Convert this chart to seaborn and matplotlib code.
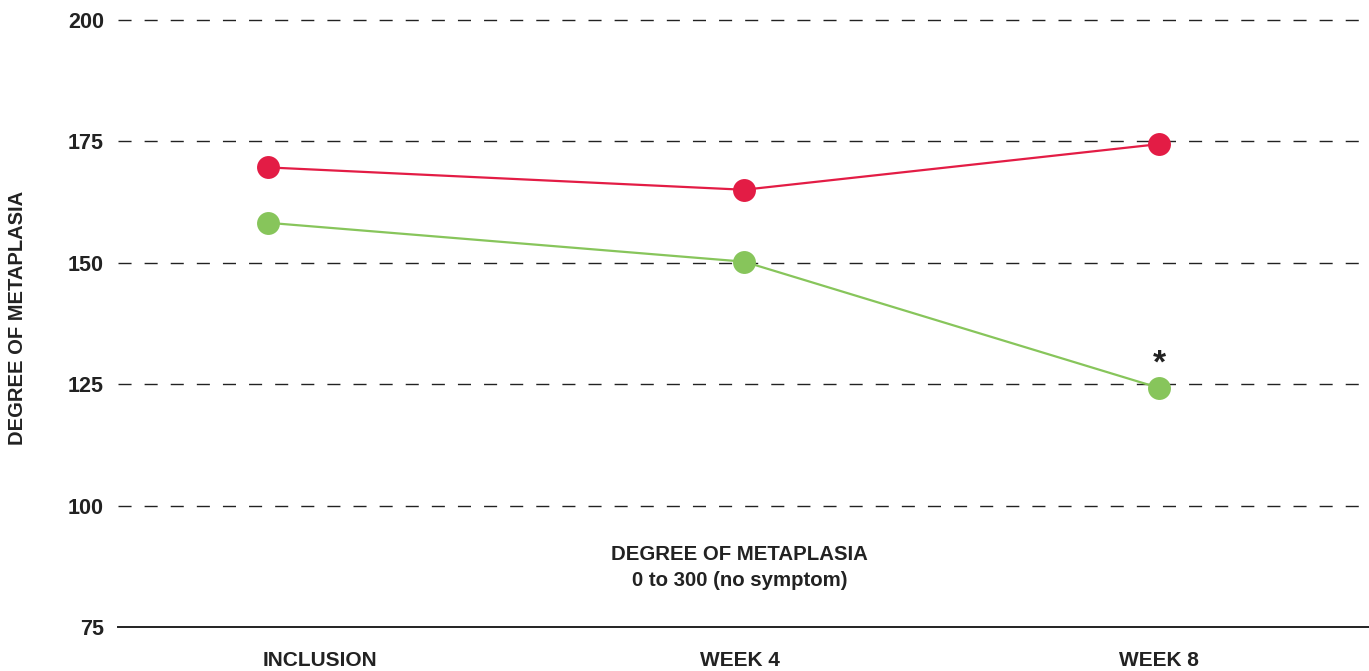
import matplotlib
matplotlib.use("Agg")
import matplotlib.pyplot as plt
import seaborn as sns
import pandas as pd

# values
timepoints = ["INCLUSION", "WEEK 4", "WEEK 8"]
tick_weeks = [0, 4, 8]
point_weeks = [-0.5, 4.04, 8]       # inclusion dot sits a little left of its label
red_series = [169.6, 165.0, 174.4]
green_series = [158.2, 150.2, 124.2]
y_ticks = [75, 100, 125, 150, 175, 200]

RED = "#E31C45"
GREEN = "#87C55B"

sns.set_theme(style="white")
plt.rcParams["font.family"] = ["Liberation Sans", "DejaVu Sans"]
plt.rcParams["font.weight"] = "bold"

df = pd.DataFrame({
    "week": point_weeks * 2,
    "value": red_series + green_series,
    "group": ["red"] * 3 + ["green"] * 3,
})

fig = plt.figure(figsize=(13.69, 6.71), dpi=100)
ax = fig.add_axes([118 / 1369, 1 - 627 / 671, 1 - 118 / 1369, (627 - 10) / 671])

# dashed reference lines
for v in y_ticks[1:]:
    ax.axhline(v, color="#222222", lw=1.0, ls=(0, (9.4, 9.4)), zorder=1)

sns.lineplot(data=df, x="week", y="value", hue="group",
             palette={"red": RED, "green": GREEN}, marker="o",
             markersize=16.5, markeredgewidth=0, linewidth=1.6,
             legend=False, ax=ax, zorder=3)

# significance star above the last green point
ax.annotate("*", xy=(point_weeks[2], green_series[2]), xytext=(0, 6),
            textcoords="offset points", ha="center", va="bottom",
            fontsize=24, fontweight="bold", color="#222222")

ax.text(4, 87.3, "DEGREE OF METAPLASIA\n0 to 300 (no symptom)",
        ha="center", va="center", fontsize=14.7, fontweight="bold",
        color="#222222", linespacing=1.45)

ax.set_xlim(-1.93, 10.0)
ax.set_ylim(75, 202)
ax.set_yticks(y_ticks)
ax.set_yticklabels([str(t) for t in y_ticks])
ax.set_xticks(tick_weeks)
ax.set_xticklabels(timepoints)
ax.tick_params(axis="y", length=0, pad=10, labelsize=15.5, labelcolor="#222222")
ax.tick_params(axis="x", length=0, pad=17, labelsize=15, labelcolor="#222222")
for lab in ax.get_xticklabels() + ax.get_yticklabels():
    lab.set_fontweight("bold")

ax.set_xlabel("")
ax.set_ylabel("")
for side in ["top", "right", "left"]:
    ax.spines[side].set_visible(False)
ax.spines["bottom"].set_color("#222222")
ax.spines["bottom"].set_linewidth(1.4)
ax.grid(False)

fig.text(18 / 1369, 1 - 318 / 671, "DEGREE OF METAPLASIA", rotation=90,
         ha="center", va="center", fontsize=14.5, fontweight="bold",
         color="#222222")

fig.savefig("out.png", dpi=100)
